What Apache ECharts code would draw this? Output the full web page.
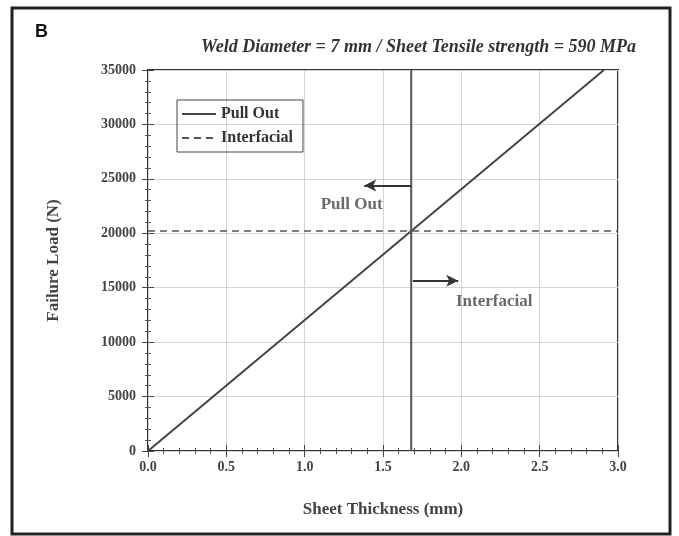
<!DOCTYPE html>
<html>
<head>
<meta charset="utf-8">
<script src="https://cdn.jsdelivr.net/npm/echarts@6/dist/echarts.min.js"></script>
<style>html,body{margin:0;padding:0;background:#fff}#c{width:679px;height:536px}</style>
</head>
<body>
<div id="c"></div>
<script>
// Data
const pullOutThickness = [0, 2.91];
const pullOutLoad = [0, 35000];
const interfacialThickness = [0, 3.0];
const interfacialLoad = [20200, 20200];
const transitionThickness = [1.68, 1.68];
const transitionLoad = [0, 35000];
const arrowLeft = [[1.68, 24400], [1.38, 24400]];
const arrowRight = [[1.69, 15650], [1.98, 15650]];
const annotations = [
  { name: 'Pull Out', value: [1.30, 22600] },
  { name: 'Interfacial', value: [2.21, 13700] }
];
const xTicks = [0, 0.5, 1.0, 1.5, 2.0, 2.5, 3.0];
const yTicks = [0, 5000, 10000, 15000, 20000, 25000, 30000, 35000];

const serif = '"Liberation Serif", "DejaVu Serif", serif';
const chart = echarts.init(document.getElementById('c'), null, { renderer: 'canvas' });

const zip = (a, b) => a.map((v, i) => [v, b[i]]);

const baseAxisCommon = {
  type: 'value',
  minorTick: { show: true, splitNumber: 5, length: 3, lineStyle: { color: '#555', width: 1 } },
  axisTick: { show: true, inside: true, length: 6, lineStyle: { color: '#444', width: 1 } },
  axisLine: { show: false }
};

chart.setOption({
  animation: false,
  backgroundColor: '#fff',
  grid: { left: 148, right: 61, top: 70, bottom: 85, show: true, borderColor: '#333', borderWidth: 2, backgroundColor: 'transparent' },
  title: [
    { text: 'B', left: 30, top: 18, textStyle: { fontFamily: '"Liberation Sans", Arial, sans-serif', fontWeight: 'bold', fontSize: 18, color: '#111' } },
    { text: 'Weld Diameter = 7 mm / Sheet Tensile strength = 590 MPa', right: 38, top: 33, textStyle: { fontFamily: serif, fontStyle: 'italic', fontWeight: 'bold', fontSize: 18, color: '#333' } }
  ],
  legend: {
    orient: 'vertical', left: 177, top: 100,
    data: ['Pull Out', 'Interfacial'],
    borderColor: '#444', borderWidth: 1, padding: [6, 10, 6, 4], itemGap: 8,
    itemWidth: 34, itemHeight: 12,
    itemStyle: { opacity: 0 },
    textStyle: { fontFamily: serif, fontWeight: 'bold', fontSize: 16, color: '#333' }
  },
  xAxis: [
    Object.assign({}, baseAxisCommon, {
      min: 0, max: 3, interval: 0.5, position: 'bottom',
      name: 'Sheet Thickness (mm)', nameLocation: 'middle', nameGap: 50,
      nameTextStyle: { fontFamily: serif, fontWeight: 'bold', fontSize: 17, color: '#444' },
      axisLabel: { margin: 9, fontFamily: serif, fontWeight: 'bold', fontSize: 14, color: '#444', formatter: v => v.toFixed(1) },
      splitLine: { show: true, lineStyle: { color: '#d4d4d4', type: 'solid', width: 1 } }
    }),
    Object.assign({}, baseAxisCommon, {
      min: 0, max: 3, interval: 0.5, position: 'top',
      axisLabel: { show: false }, splitLine: { show: false }
    })
  ],
  yAxis: [
    Object.assign({}, baseAxisCommon, {
      min: 0, max: 35000, interval: 5000, position: 'left',
      name: 'Failure Load (N)', nameLocation: 'middle', nameGap: 86,
      nameTextStyle: { fontFamily: serif, fontWeight: 'bold', fontSize: 17, color: '#444' },
      axisLabel: { margin: 12, fontFamily: serif, fontWeight: 'bold', fontSize: 14, color: '#444', formatter: v => String(v) },
      splitLine: { show: true, lineStyle: { color: '#d4d4d4', type: 'solid', width: 1 } }
    }),
    Object.assign({}, baseAxisCommon, {
      min: 0, max: 35000, interval: 5000, position: 'right',
      axisLabel: { show: false }, splitLine: { show: false }
    })
  ],
  series: [
    {
      name: 'Pull Out', type: 'line', data: zip(pullOutThickness, pullOutLoad),
      symbol: 'none', lineStyle: { color: '#444', width: 2 }, itemStyle: { color: '#444' }
    },
    {
      name: 'Interfacial', type: 'line', data: zip(interfacialThickness, interfacialLoad),
      symbol: 'none', lineStyle: { color: '#555', width: 1.5, type: [7, 5] }, itemStyle: { color: '#555' }
    },
    {
      name: 'Transition', type: 'line', data: zip(transitionThickness, transitionLoad),
      symbol: 'none', lineStyle: { color: '#555', width: 2 }, itemStyle: { color: '#555' },
      markLine: {
        silent: true, symbol: ['none', 'arrow'], symbolSize: [9, 12],
        lineStyle: { color: '#333', width: 2, type: 'solid' }, label: { show: false },
        data: [
          [{ coord: arrowLeft[0] }, { coord: arrowLeft[1] }],
          [{ coord: arrowRight[0] }, { coord: arrowRight[1] }]
        ]
      }
    },
    {
      name: 'Labels', type: 'scatter', symbolSize: 0, data: annotations,
      label: { show: true, position: 'inside', formatter: p => p.name, fontFamily: serif, fontWeight: 'bold', fontSize: 17, color: '#444' }
    }
  ],
  graphic: [
    { type: 'rect', shape: { x: 12, y: 8, width: 658, height: 526 }, style: { fill: 'none', stroke: '#222', lineWidth: 3 }, silent: true }
  ]
});
</script>
</body>
</html>
